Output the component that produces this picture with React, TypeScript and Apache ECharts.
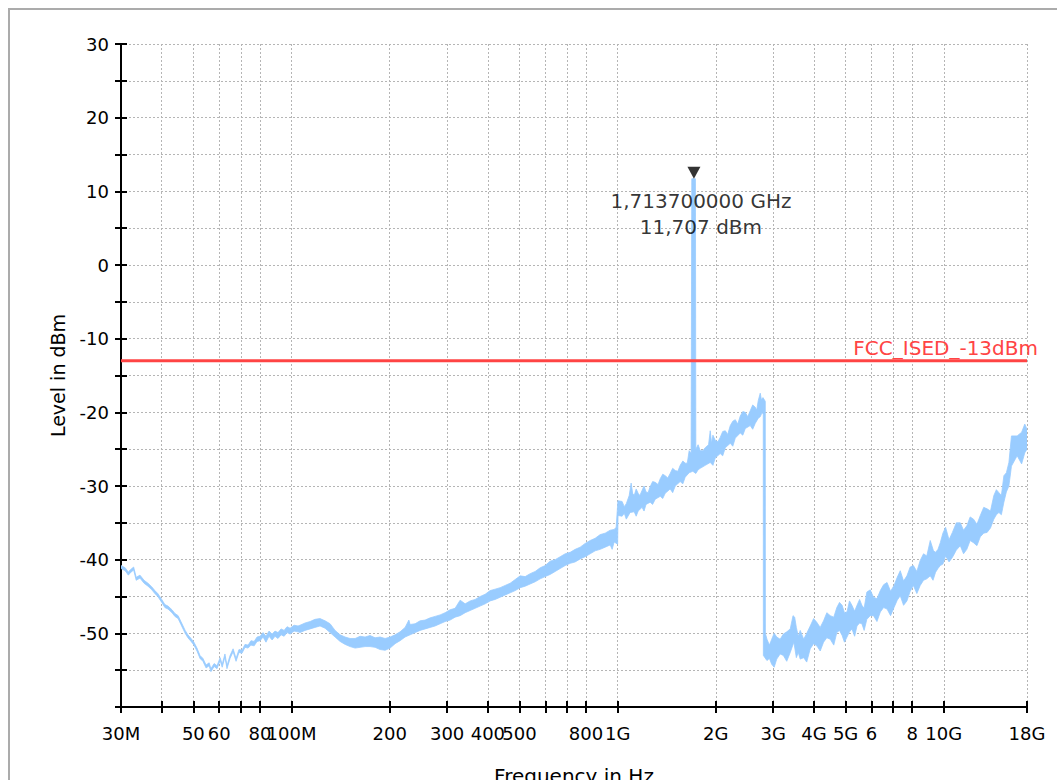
import React, { useEffect, useRef } from 'react';
import * as echarts from 'echarts';

// ---- axes ----
const freqMinMHz = 30;
const freqMaxMHz = 18000;
const levelMin = -60;
const levelMax = 30;
const levelStep = 5;
const xTickFreqsMHz = [30, 40, 50, 60, 70, 80, 100, 200, 300, 400, 500, 600, 700, 800, 1000, 2000, 3000, 4000, 5000, 6000, 7000, 8000, 10000, 18000];
const xTickLabels: Record<number, string> = {
  30: '30M', 50: '50', 60: '60', 80: '80', 100: '100M', 200: '200', 300: '300', 400: '400', 500: '500',
  800: '800', 1000: '1G', 2000: '2G', 3000: '3G', 4000: '4G', 5000: '5G', 6000: '6', 8000: '8', 10000: '10G', 18000: '18G',
};

// ---- trace: upper and lower edge of the measured trace, [MHz, dBm] ----
const traceUpper: [number, number][] = [
  [30.0, -40.8], [30.9, -41.1], [31.6, -41.7], [32.0, -41.4], [32.8, -41.0], [33.4, -42.4], [34.3, -42.1], [35.3, -42.8],
  [36.3, -43.2], [37.3, -43.7], [38.1, -44.2], [38.9, -44.6], [40.0, -45.4], [40.9, -46.1], [41.8, -46.3], [43.0, -46.8],
  [43.9, -47.3], [44.9, -47.6], [45.8, -48.4], [47.2, -49.6], [48.1, -50.2], [49.2, -50.7], [50.2, -51.2], [51.3, -52.0],
  [52.4, -53.0], [53.5, -53.4], [54.7, -54.3], [55.9, -54.0], [56.6, -54.8], [57.9, -54.1], [59.1, -54.4], [60.4, -53.3],
  [61.3, -54.2], [62.5, -52.8], [63.4, -54.4], [64.8, -53.0], [66.2, -52.1], [67.6, -53.4], [69.0, -52.2], [70.5, -52.3],
  [72.0, -51.5], [73.6, -51.6], [75.1, -51.0], [76.8, -51.1], [78.4, -50.5], [80.1, -50.4], [81.8, -49.9], [83.5, -50.4],
  [85.3, -49.7], [87.2, -50.1], [89.0, -49.7], [90.9, -49.9], [92.9, -49.4], [94.9, -49.6], [96.9, -49.1], [99.0, -49.3],
  [101.8, -48.9], [104.7, -49.0], [106.2, -48.9], [110.0, -48.6], [114.0, -48.4], [118.0, -48.1], [122.3, -48.0],
  [126.7, -48.3], [131.3, -48.7], [136.0, -49.6], [140.9, -50.2], [146.0, -50.5], [151.2, -50.7], [156.7, -50.7],
  [162.3, -50.4], [168.1, -50.5], [174.1, -50.3], [180.4, -50.6], [186.9, -50.5], [193.6, -50.7], [200.6, -50.5],
  [207.8, -50.2], [215.2, -49.8], [223.0, -49.2], [229.0, -48.2], [231.0, -48.8], [239.3, -48.7], [247.9, -48.3],
  [256.8, -48.2], [266.1, -47.9], [275.6, -47.7], [285.5, -47.5], [295.8, -47.2], [306.4, -46.8], [317.4, -46.6],
  [328.9, -45.5], [340.7, -46.0], [353.0, -45.6], [365.7, -45.4], [378.7, -45.0], [392.4, -44.7], [406.5, -44.2],
  [421.2, -44.0], [436.3, -43.8], [452.0, -43.5], [468.2, -43.2], [485.1, -42.7], [502.5, -42.2], [520.6, -42.3],
  [539.2, -41.9], [558.7, -41.6], [578.8, -41.1], [599.6, -40.8], [621.1, -40.2], [643.5, -40.0], [666.5, -39.6],
  [690.6, -39.2], [715.4, -39.0], [741.1, -38.6], [767.6, -38.3], [795.1, -37.8], [823.8, -37.4], [853.3, -37.1],
  [884.0, -36.6], [915.8, -36.4], [948.7, -36.0], [975.7, -35.9], [989.7, -35.6],
  [1002, -32.0], [1032, -32.1], [1048, -32.8], [1063, -32.4], [1085, -31.3], [1100, -29.6], [1112, -31.0], [1124, -31.3],
  [1140, -30.4], [1156, -31.0], [1170, -31.3], [1188, -30.6], [1205, -30.0], [1222, -30.8], [1240, -30.9], [1258, -30.1],
  [1280, -29.4], [1304, -29.5], [1330, -29.8], [1351, -29.0], [1375, -28.4], [1399, -28.6], [1425, -28.9], [1449, -28.3],
  [1475, -27.6], [1502, -27.9], [1530, -28.0], [1555, -27.2], [1585, -26.6], [1611, -26.9], [1635, -26.9], [1657, -25.2],
  [1680, -25.6], [1688, 11.707], [1732, 11.707], [1737, -25.0], [1765, -24.4], [1792, -25.2], [1825, -25.2], [1856, -24.8],
  [1900, -24.4], [1923, -22.5], [1940, -24.2], [1960, -23.1], [1992, -23.8], [2030, -24.0], [2063, -23.4], [2100, -22.6],
  [2139, -22.5], [2175, -23.0], [2215, -21.8], [2255, -21.2], [2295, -21.0], [2335, -21.6], [2377, -20.5], [2420, -19.9],
  [2463, -20.0], [2505, -20.6], [2550, -19.8], [2595, -19.0], [2642, -19.3], [2670, -19.7], [2699, -18.4], [2737, -17.4],
  [2760, -18.3], [2790, -18.0], [2836, -18.5], [2838, -50.0], [2870, -50.8], [2920, -51.6], [2968, -50.8], [3020, -50.0],
  [3075, -50.5], [3150, -50.8], [3222, -50.1], [3300, -49.8], [3383, -49.4], [3450, -47.6], [3490, -47.8], [3532, -49.2],
  [3580, -50.4], [3630, -49.6], [3720, -50.8], [3800, -50.0], [3896, -49.0], [3990, -48.0], [4080, -48.5], [4180, -49.2],
  [4280, -48.3], [4380, -47.2], [4487, -47.6], [4600, -47.8], [4700, -46.5], [4790, -45.8], [4880, -46.2], [4960, -47.2],
  [5050, -47.1], [5140, -45.6], [5230, -46.2], [5330, -47.0], [5420, -46.2], [5520, -45.4], [5610, -46.2], [5700, -46.6],
  [5810, -44.4], [5950, -44.1], [6090, -45.1], [6240, -45.3], [6390, -44.2], [6540, -43.4], [6700, -43.1], [6870, -44.3],
  [7040, -43.5], [7200, -42.4], [7356, -41.5], [7530, -42.9], [7710, -42.2], [7890, -41.0], [8070, -40.8], [8270, -41.6],
  [8470, -40.1], [8670, -39.2], [8870, -39.5], [9090, -37.4], [9300, -38.8], [9440, -39.0], [9600, -38.6], [9757, -37.7],
  [9940, -36.4], [10130, -35.6], [10380, -37.3], [10630, -36.3], [10930, -35.0], [11237, -35.0], [11500, -36.0],
  [11770, -35.4], [12050, -34.2], [12340, -34.5], [12640, -35.2], [12944, -34.0], [13260, -32.9], [13580, -33.1],
  [13910, -33.4], [14240, -31.3], [14500, -30.5], [14760, -30.9], [15020, -31.3], [15290, -28.6], [15560, -28.2],
  [15840, -26.8], [16130, -23.2], [16790, -23.2], [17330, -22.7], [17720, -21.6], [18000, -22.3],
];

const traceLower: [number, number][] = [
  [30.0, -41.2], [30.9, -41.5], [31.6, -42.1], [32.0, -41.8], [32.8, -41.4], [33.4, -42.8], [34.3, -42.5], [35.3, -43.2],
  [36.3, -43.6], [37.3, -44.1], [38.1, -44.6], [38.9, -45.0], [40.0, -45.8], [40.9, -46.5], [41.8, -46.7], [43.0, -47.2],
  [43.9, -47.7], [44.9, -48.0], [45.8, -48.8], [47.2, -50.0], [48.1, -50.6], [49.2, -51.1], [50.2, -51.6], [51.3, -52.4],
  [52.4, -53.4], [53.5, -53.8], [54.7, -54.7], [55.9, -54.4], [56.6, -55.2], [57.9, -54.5], [59.1, -54.8], [60.4, -53.7],
  [61.3, -54.6], [62.5, -53.2], [63.4, -54.8], [64.8, -53.4], [66.2, -52.5], [67.6, -53.8], [69.0, -52.6], [70.5, -52.7],
  [72.0, -51.9], [73.6, -52.0], [75.1, -51.6], [76.8, -51.7], [78.4, -51.1], [80.1, -51.0], [81.8, -50.5], [83.5, -51.2],
  [85.3, -50.4], [87.2, -50.9], [89.0, -50.4], [90.9, -50.7], [92.9, -50.2], [94.9, -50.4], [96.9, -49.9], [99.0, -50.1],
  [101.8, -49.7], [104.7, -49.8], [106.2, -49.9], [110.0, -49.6], [114.0, -49.4], [118.0, -49.2], [122.3, -49.0],
  [126.7, -49.3], [131.3, -49.9], [136.0, -50.5], [140.9, -51.1], [146.0, -51.5], [151.2, -51.8], [156.7, -52.0],
  [162.3, -51.9], [168.1, -51.8], [174.1, -51.8], [180.4, -51.9], [186.9, -52.2], [193.6, -52.3], [200.6, -52.0],
  [207.8, -51.4], [215.2, -51.0], [223.0, -50.5], [231.0, -50.2], [239.3, -49.9], [247.9, -49.6], [256.8, -49.4],
  [266.1, -49.2], [275.6, -49.0], [285.5, -48.7], [295.8, -48.4], [306.4, -48.2], [317.4, -47.8], [328.9, -47.6],
  [340.7, -47.2], [353.0, -46.9], [365.7, -46.6], [378.7, -46.3], [392.4, -46.0], [406.5, -45.6], [421.2, -45.4],
  [436.3, -45.1], [452.0, -44.8], [468.2, -44.5], [485.1, -44.2], [502.5, -43.8], [520.6, -43.6], [539.2, -43.3],
  [558.7, -43.0], [578.8, -42.6], [599.6, -42.3], [621.1, -42.0], [643.5, -41.6], [666.5, -41.2], [690.6, -40.8],
  [715.4, -40.5], [741.1, -40.3], [767.6, -39.9], [795.1, -39.6], [823.8, -39.2], [853.3, -38.8], [884.0, -38.6],
  [915.8, -38.3], [948.7, -38.0], [962.0, -38.6], [975.7, -37.6], [1000, -37.9],
  [1003, -34.0], [1032, -34.1], [1048, -33.7], [1063, -34.5], [1092, -33.6], [1124, -33.5], [1140, -34.1], [1156, -33.4],
  [1188, -32.9], [1205, -33.4], [1222, -32.5], [1258, -32.2], [1280, -32.5], [1304, -31.8], [1351, -31.4], [1375, -31.7],
  [1399, -31.0], [1449, -30.4], [1475, -30.9], [1502, -30.0], [1555, -29.4], [1585, -29.7], [1611, -28.8], [1657, -28.2],
  [1700, -28.0], [1737, -28.3], [1765, -27.8], [1792, -27.6], [1856, -27.2], [1923, -26.8], [1960, -27.2], [1992, -26.2],
  [2063, -25.6], [2100, -25.9], [2139, -24.8], [2215, -24.2], [2255, -24.6], [2295, -23.5], [2377, -22.8], [2420, -23.1],
  [2463, -22.2], [2550, -21.8], [2595, -22.3], [2642, -21.5], [2699, -20.8], [2737, -20.6], [2775, -20.0], [2796, -20.3],
  [2798, -53.0], [2870, -53.7], [2920, -53.4], [2968, -54.2], [3020, -54.6], [3075, -53.5], [3150, -52.8], [3222, -53.0],
  [3300, -53.8], [3383, -52.6], [3470, -51.2], [3532, -53.3], [3580, -52.6], [3630, -53.5], [3720, -53.3], [3800, -53.9],
  [3896, -52.1], [3990, -51.4], [4080, -51.7], [4180, -52.4], [4280, -51.2], [4380, -50.6], [4487, -50.8], [4600, -51.6],
  [4700, -49.9], [4790, -49.6], [4880, -50.3], [4960, -51.2], [5050, -50.5], [5140, -49.8], [5230, -49.4], [5330, -50.4],
  [5420, -49.0], [5520, -48.6], [5610, -48.7], [5700, -49.6], [5810, -48.1], [5950, -47.6], [6090, -47.6], [6240, -48.4],
  [6390, -47.1], [6540, -46.5], [6700, -46.7], [6870, -47.6], [7040, -46.5], [7200, -45.5], [7356, -44.9], [7530, -46.2],
  [7710, -45.6], [7890, -44.3], [8070, -43.5], [8270, -44.6], [8470, -43.5], [8670, -42.8], [8870, -42.6], [9090, -42.2],
  [9270, -42.8], [9440, -41.7], [9600, -41.2], [9757, -40.8], [9940, -40.6], [10130, -39.5], [10380, -40.3], [10630, -39.7],
  [10930, -38.7], [11237, -38.1], [11500, -39.2], [11770, -38.6], [12050, -37.4], [12340, -37.7], [12640, -38.1],
  [12944, -36.9], [13260, -36.4], [13580, -36.3], [13910, -35.7], [14240, -34.5], [14500, -33.9], [14760, -33.6],
  [15020, -33.9], [15290, -32.2], [15560, -30.8], [15840, -30.0], [16130, -27.3], [16790, -25.9], [17330, -27.0],
  [17720, -25.5], [18000, -25.0],
];

// ---- limit line and marker ----
const limitLevel = -13;
const limitName = 'FCC_ISED_-13dBm';
const markerFreqMHz = 1713.7;
const markerLevel = 11.707;

const FONT = 'DejaVu Sans';
const TRACE_COLOR = '#99ccff';
const LIMIT_COLOR = '#ff4444';
const GRID_COLOR = '#b5b5b5';

const lg = (f: number) => Math.log10(f);

function buildOption() {
  const xTicks = xTickFreqsMHz.map(lg);
  const xMin = lg(freqMinMHz);
  const xMax = lg(freqMaxMHz);
  const xLabelFmt = (v: number) => xTickLabels[Math.round(Math.pow(10, v))] ?? '';
  const axisLineStyle = { color: '#000', width: 2 };
  const tickText = { fontFamily: FONT, fontSize: 18, color: '#000' };

  const markerLabel =
    (markerFreqMHz / 1000).toFixed(9).replace('.', ',') + ' GHz\n' + markerLevel.toFixed(3).replace('.', ',') + ' dBm';

  return {
    animation: false,
    backgroundColor: 'transparent',
    textStyle: { fontFamily: FONT, fontSize: 18, color: '#000' },
    grid: { left: 121, right: 30, top: 44, bottom: 73, containLabel: false, outerBoundsMode: 'none' },
    xAxis: [
      {
        type: 'value', min: xMin, max: xMax, position: 'bottom',
        name: 'Frequency in Hz', nameLocation: 'middle', nameGap: 59,
        nameTextStyle: { fontFamily: FONT, fontSize: 20, color: '#000' },
        axisLine: { show: true, onZero: false, lineStyle: axisLineStyle },
        axisTick: { show: true, inside: false, length: 6, customValues: xTicks, lineStyle: axisLineStyle },
        axisLabel: { show: true, customValues: xTicks, formatter: xLabelFmt, margin: 17, ...tickText },
        splitLine: { show: true, lineStyle: { color: GRID_COLOR, width: 1, type: [2, 2] } },
      },
      {
        type: 'value', min: xMin, max: xMax, position: 'bottom',
        axisLine: { show: false, onZero: false },
        axisTick: { show: true, inside: true, length: 6, customValues: xTicks, lineStyle: axisLineStyle },
        axisLabel: { show: false },
        splitLine: { show: false },
      },
    ],
    yAxis: [
      {
        type: 'value', min: levelMin, max: levelMax, interval: levelStep, position: 'left',
        name: 'Level in dBm', nameLocation: 'middle', nameGap: 54, nameRotate: 90,
        nameTextStyle: { fontFamily: FONT, fontSize: 19, color: '#000' },
        axisLine: { show: true, onZero: false, lineStyle: axisLineStyle },
        axisTick: { show: true, inside: false, length: 6, lineStyle: axisLineStyle },
        axisLabel: {
          show: true, margin: 12, ...tickText,
          formatter: (v: number) => (v % 10 === 0 && v !== levelMin ? String(v) : ''),
        },
        splitLine: { show: true, lineStyle: { color: GRID_COLOR, width: 1, type: [2, 2] } },
      },
      {
        type: 'value', min: levelMin, max: levelMax, interval: levelStep, position: 'left',
        axisLine: { show: false, onZero: false },
        axisTick: { show: true, inside: true, length: 6, lineStyle: axisLineStyle },
        axisLabel: { show: false },
        splitLine: { show: false },
      },
    ],
    series: [
      {
        type: 'custom',
        name: 'trace',
        z: 2,
        clip: true,
        data: [[xMin, levelMin]],
        renderItem: (_params: any, api: any) => {
          const pts: number[][] = [];
          for (let i = 0; i < traceUpper.length; i++) pts.push(api.coord([lg(traceUpper[i][0]), traceUpper[i][1]]));
          for (let i = traceLower.length - 1; i >= 0; i--) pts.push(api.coord([lg(traceLower[i][0]), traceLower[i][1]]));
          return {
            type: 'polygon',
            shape: { points: pts },
            style: { fill: TRACE_COLOR, stroke: TRACE_COLOR, lineWidth: 0.8 },
          };
        },
      },
      {
        type: 'line',
        name: limitName,
        z: 3,
        symbol: 'circle',
        symbolSize: 0.1,
        showSymbol: true,
        lineStyle: { color: LIMIT_COLOR, width: 3 },
        itemStyle: { color: LIMIT_COLOR },
        data: [
          { value: [xMin, limitLevel] },
          {
            value: [xMax, limitLevel],
            label: {
              show: true, position: 'top', align: 'right', distance: 3, offset: [11, 0],
              formatter: limitName, color: LIMIT_COLOR, fontFamily: FONT, fontSize: 20,
            },
          },
        ],
      },
      {
        type: 'scatter',
        name: 'marker',
        z: 4,
        symbol: 'triangle',
        symbolSize: [13, 12],
        symbolRotate: 180,
        symbolOffset: [0, -6],
        itemStyle: { color: '#000' },
        data: [[lg(markerFreqMHz), markerLevel]],
        label: {
          show: true, position: 'bottom', distance: 9, offset: [7, 0], align: 'center',
          formatter: markerLabel, lineHeight: 26, color: '#000', fontFamily: FONT, fontSize: 20,
        },
      },
    ],
  };
}

export default function App() {
  const ref = useRef<HTMLDivElement>(null);
  useEffect(() => {
    if (!ref.current) return;
    const chart = echarts.init(ref.current, undefined, { renderer: 'svg' });
    chart.setOption(buildOption() as any);
    return () => chart.dispose();
  }, []);
  return (
    <div style={{ position: 'fixed', left: 0, top: 0, width: 1057, height: 780, overflow: 'hidden', background: '#fff' }}>
      <div
        style={{
          position: 'absolute', left: 8, top: 8, width: 1070, height: 800,
          border: '2px solid #ababab', boxSizing: 'border-box', background: '#fff',
        }}
      />
      <div ref={ref} style={{ position: 'absolute', left: 0, top: 0, width: 1057, height: 780 }} />
    </div>
  );
}
